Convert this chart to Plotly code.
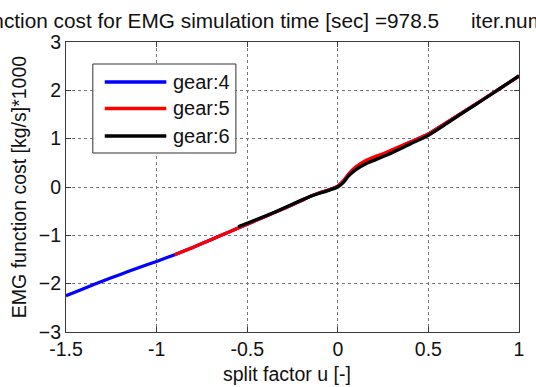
import plotly.graph_objects as go

# Data
x4 = [-1.5, -1.4, -1.3, -1.2, -1.1, -1.0, -0.9, -0.8, -0.7, -0.6, -0.5, -0.4, -0.3, -0.2,
      -0.15, -0.1, -0.05, 0.0, 0.03, 0.06, 0.1, 0.15, 0.2, 0.25, 0.3, 0.4, 0.5, 0.6, 0.7,
      0.8, 0.9, 1.0]
y4 = [-2.25, -2.10, -1.95, -1.81, -1.67, -1.54, -1.40, -1.25, -1.09, -0.93, -0.77, -0.61,
      -0.45, -0.28, -0.19, -0.12, -0.06, 0.02, 0.12, 0.27, 0.41, 0.52, 0.60, 0.68, 0.76,
      0.93, 1.10, 1.33, 1.57, 1.81, 2.05, 2.30]

x5 = [-0.9, -0.8, -0.7, -0.6, -0.5, -0.4, -0.3, -0.2, -0.15, -0.1, -0.05, 0.0, 0.03, 0.06,
      0.1, 0.15, 0.2, 0.25, 0.3, 0.4, 0.5, 0.6, 0.7, 0.8, 0.9, 1.0]
y5 = [-1.40, -1.25, -1.09, -0.93, -0.77, -0.61, -0.45, -0.28, -0.19, -0.12, -0.06, 0.02,
      0.12, 0.27, 0.42, 0.54, 0.62, 0.69, 0.77, 0.93, 1.10, 1.33, 1.57, 1.81, 2.05, 2.29]

x6 = [-0.55, -0.5, -0.4, -0.3, -0.2, -0.15, -0.1, -0.05, 0.0, 0.03, 0.06, 0.1, 0.15, 0.2,
      0.25, 0.3, 0.4, 0.5, 0.6, 0.7, 0.8, 0.9, 1.0]
y6 = [-0.82, -0.75, -0.60, -0.44, -0.27, -0.19, -0.13, -0.07, 0.0, 0.09, 0.23, 0.36, 0.47,
      0.55, 0.63, 0.71, 0.89, 1.07, 1.31, 1.56, 1.80, 2.05, 2.30]

series_names = ["gear:4", "gear:5", "gear:6"]
series_colors = ["#0000ff", "#ff0000", "#000000"]
series_x = [x4, x5, x6]
series_y = [y4, y5, y6]

x_ticks = [-1.5, -1, -0.5, 0, 0.5, 1]
x_ticklabels = ["-1.5", "-1", "-0.5", "0", "0.5", "1"]
y_ticks = [-3, -2, -1, 0, 1, 2, 3]

title_text = "function cost for EMG simulation time [sec] =978.5"
iter_text = "iter.num = 1"
x_title = "split factor u [-]"
y_title = "EMG function cost [kg/s]*1000"

FONT = "Liberation Sans, Arial, sans-serif"
TXT = "#111"

# plot-area geometry in pixels (for placing paper-referenced decorations)
L, R, T, B = 66, 522, 42, 332
def px(xp):
    return (xp - L) / (R - L)
def py(yp):
    return (B - yp) / (B - T)

fig = go.Figure()
for name, xs, ys, col in zip(series_names, series_x, series_y, series_colors):
    fig.add_trace(go.Scatter(x=xs, y=ys, mode="lines", name=name, showlegend=False,
                             line=dict(color=col, width=3.2, shape="spline", smoothing=0.6)))

axis_common = dict(showline=True, linecolor="#3a3a3a", linewidth=1, mirror="allticks",
                   ticks="inside", ticklen=5, tickcolor="#3a3a3a",
                   showgrid=True, gridcolor="#777777", griddash="dot", gridwidth=1,
                   zeroline=False, tickfont=dict(family=FONT, size=19.5, color=TXT))

fig.update_xaxes(range=[-1.5, 1], tickvals=x_ticks, ticktext=x_ticklabels, **axis_common)
fig.update_yaxes(range=[-3, 3], tickvals=y_ticks,
                 title=dict(text=y_title, font=dict(family=FONT, size=19.5, color=TXT), standoff=7),
                 **axis_common)

fig.update_layout(
    width=536, height=387,
    margin=dict(l=L, r=536 - R, t=T, b=387 - B),
    paper_bgcolor="white", plot_bgcolor="white",
    font=dict(family=FONT, size=19, color=TXT),
    showlegend=False,
)

# x-axis title
fig.add_annotation(text=x_title, xref="paper", yref="paper", x=px(288), y=py(374),
                   xanchor="center", yanchor="middle", showarrow=False,
                   font=dict(family=FONT, size=19.5, color=TXT))

# title (clipped at the figure edges like the reference)
fig.add_annotation(text=title_text, xref="paper", yref="paper",
                   x=px(-28), y=py(20), xanchor="left", yanchor="middle",
                   showarrow=False, font=dict(family=FONT, size=20.8, color=TXT))
fig.add_annotation(text=iter_text, xref="paper", yref="paper",
                   x=px(472), y=py(20), xanchor="left", yanchor="middle",
                   showarrow=False, font=dict(family=FONT, size=20.8, color=TXT))

# legend box drawn MATLAB-style
fig.add_shape(type="rect", xref="paper", yref="paper", x0=px(93), x1=px(237), y0=py(153), y1=py(64),
              line=dict(color="#333", width=1), fillcolor="white", layer="above")
row_y = [82, 108.5, 136]
for name, col, ry in zip(series_names, series_colors, row_y):
    fig.add_shape(type="line", xref="paper", yref="paper", x0=px(105), x1=px(167), y0=py(ry), y1=py(ry),
                  line=dict(color=col, width=3.5), layer="above")
    fig.add_annotation(text=name, xref="paper", yref="paper", x=px(172), y=py(ry),
                       xanchor="left", yanchor="middle", showarrow=False,
                       font=dict(family=FONT, size=20, color=TXT))

fig.write_html("out.html")
